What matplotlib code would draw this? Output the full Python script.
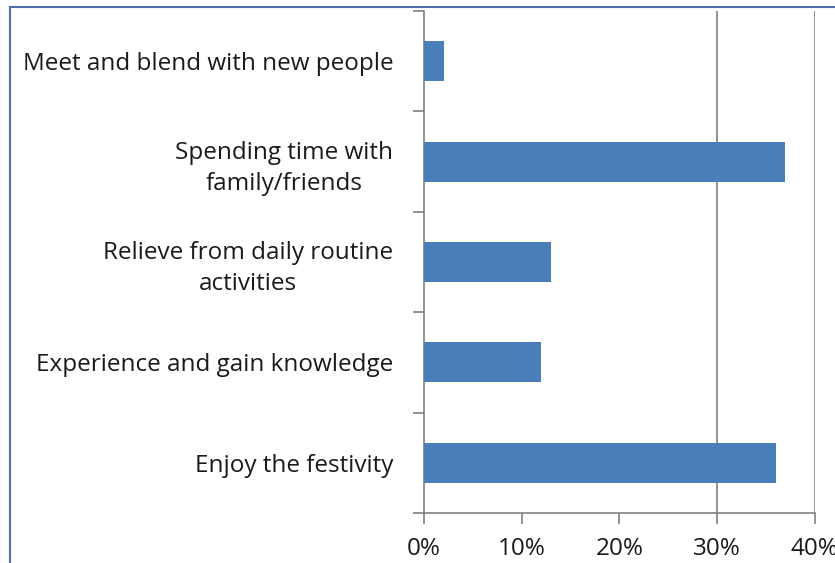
import matplotlib.pyplot as plt
from matplotlib.lines import Line2D
import numpy as np

# Survey answers, listed top to bottom
reasons = [
    "Meet and blend with new people",
    "Spending time with\nfamily/friends",
    "Relieve from daily routine\nactivities",
    "Experience and gain knowledge",
    "Enjoy the festivity",
]
shares = [2, 37, 13, 12, 36]  # percent
xticks = [0, 10, 20, 30, 40]
xticklabels = ["0%", "10%", "20%", "30%", "40%"]
gridlines = [30, 40]

plt.rcParams['font.family'] = ['Open Sans', 'DejaVu Sans']

fig = plt.figure(figsize=(8.35, 5.63), dpi=100)
ax = fig.add_axes([0.5078, 0.0888, 0.468, 0.8917])

pos = np.arange(len(reasons))
ax.barh(pos, shares, height=0.4, color='#4A7EBB', zorder=3)
ax.set_ylim(len(reasons) - 0.5, -0.5)
ax.set_xlim(0, 40)

# gridlines
ax.vlines(gridlines, -0.5, len(reasons) - 0.5, color='#808080', lw=1.2, zorder=1)

# category boundaries as tick marks, labels in between
ax.set_yticks(np.arange(-0.5, len(reasons)), minor=False)
ax.set_yticklabels([])
ax.set_yticks(pos, minor=True)
ax.set_yticklabels(reasons, minor=True, fontsize=17.5, color='#1a1a1a',
                   multialignment='center', linespacing=1.4)
ax.tick_params(axis='y', which='minor', length=0, pad=22)
ax.tick_params(axis='y', which='major', length=8, color='#808080', width=1.2)

ax.set_xticks(xticks)
ax.set_xticklabels(xticklabels, fontsize=17.5, color='#1a1a1a')
ax.tick_params(axis='x', length=8, color='#808080', width=1.2, pad=9)

for s in ['top', 'right']:
    ax.spines[s].set_visible(False)
for s in ['left', 'bottom']:
    ax.spines[s].set_color('#808080')
    ax.spines[s].set_linewidth(1.2)

# outer frame lines
fig.add_artist(Line2D([10 / 835, 1], [1 - 7 / 563, 1 - 7 / 563],
                      transform=fig.transFigure, color='#4F6FA8', lw=1.5))
fig.add_artist(Line2D([10 / 835, 10 / 835], [0, 1 - 7 / 563],
                      transform=fig.transFigure, color='#4F6FA8', lw=1.5))

fig.savefig('out.png', dpi=100)
